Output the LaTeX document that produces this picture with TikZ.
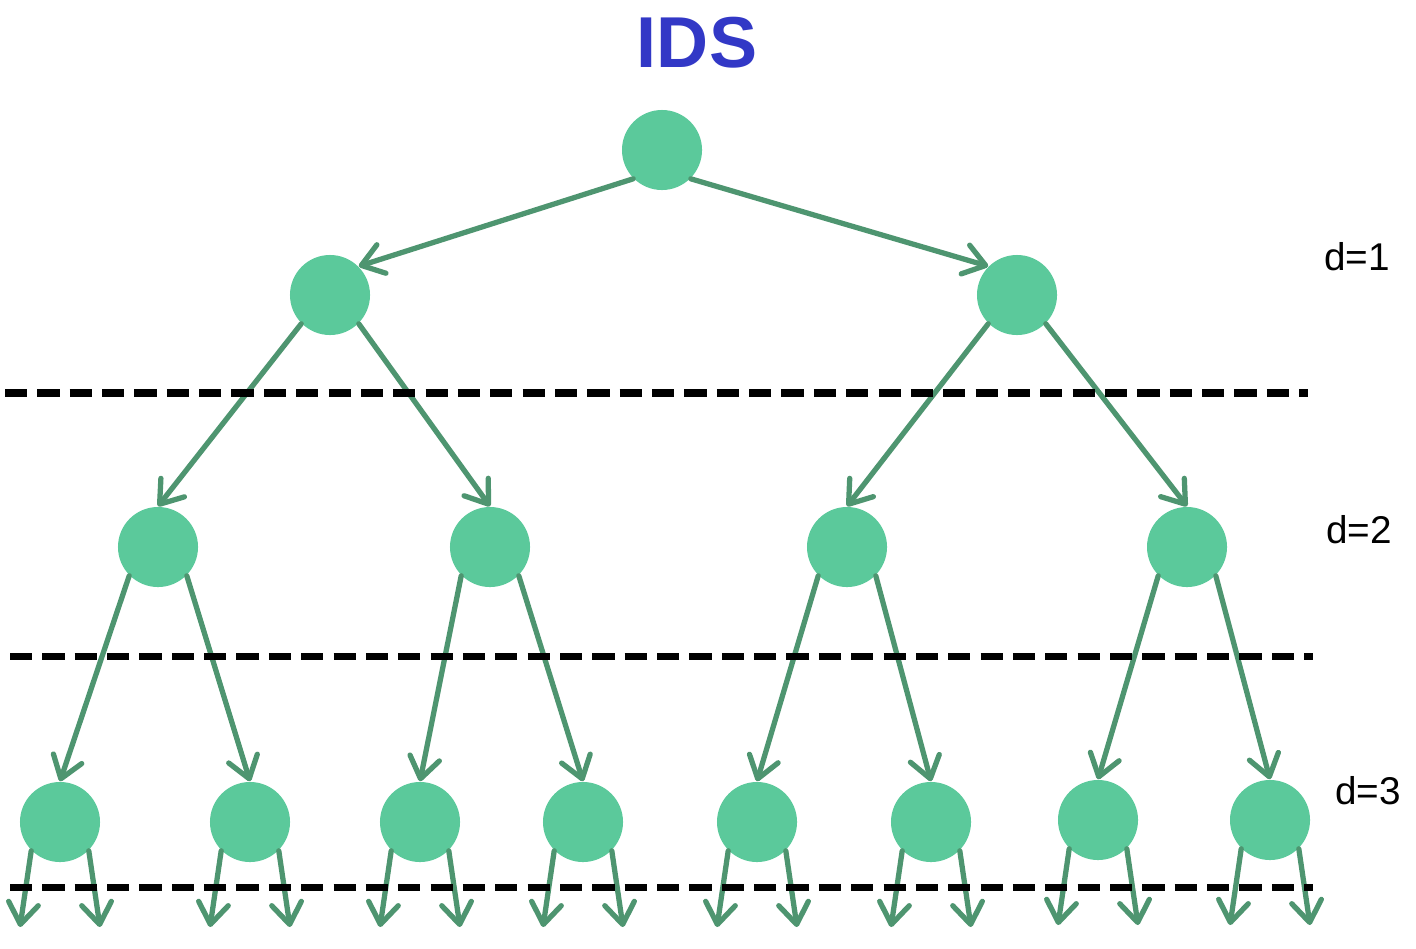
\documentclass[tikz,border=0pt]{standalone}
\usepackage{fontspec}
\setmainfont{Liberation Sans}
\usetikzlibrary{arrows.meta}

\definecolor{nodegreen}{RGB}{91,201,155}
\definecolor{edgegreen}{RGB}{78,149,112}
\definecolor{titleblue}{RGB}{50,56,198}

\begin{document}
\begin{tikzpicture}[x=0.01cm, y=-0.01cm,
		state/.style={circle, fill=nodegreen, inner sep=0pt, minimum size=0.8cm},
		edge/.style={draw=edgegreen, line width=1.5pt, line cap=round,
			-{Straight Barb[length=6pt, width=8.5pt, line width=1.5pt, round]}},
		level/.style={dash pattern=on 6.3pt off 2.9pt, line width=2pt},
		depth/.style={font=\fontsize{11}{13}\selectfont}]
		\useasboundingbox (0,0) rectangle (1416,948);
		\node [font=\fontsize{20.5}{25}\bfseries\selectfont, text=titleblue] (title) at (697,43) {IDS};
		\node [state] (r) at (662,150) {};
		\node [state] (a) at (330,295) {};
		\node [state] (b) at (1017,295) {};
		\node [state] (aa) at (158,547) {};
		\node [state] (ab) at (490,547) {};
		\node [state] (ba) at (847,547) {};
		\node [state] (bb) at (1187,547) {};
		\node [state] (aaa) at (60,822) {};
		\node [state] (aab) at (250,822) {};
		\node [state] (aba) at (420,822) {};
		\node [state] (abb) at (583,822) {};
		\node [state] (baa) at (757,822) {};
		\node [state] (bab) at (931,822) {};
		\node [state] (bba) at (1098,820) {};
		\node [state] (bbb) at (1270,820) {};
		\node [depth] (d1) at (1357,257) {d=1};
		\node [depth] (d2) at (1359,530) {d=2};
		\node [depth] (d3) at (1368,791) {d=3};

		\draw [edge] (r.south west) -- (a.north east);
		\draw [edge] (r.south east) -- (b.north west);
		\draw [edge] (a.south west) -- (aa.north);
		\draw [edge] (a.south east) -- (ab.north);
		\draw [edge] (b.south west) -- (ba.north);
		\draw [edge] (b.south east) -- (bb.north);
		\draw [edge] (aa.south west) -- (aaa.north);
		\draw [edge] (aa.south east) -- (aab.north);
		\draw [edge] (ab.south west) -- (aba.north);
		\draw [edge] (ab.south east) -- (abb.north);
		\draw [edge] (ba.south west) -- (baa.north);
		\draw [edge] (ba.south east) -- (bab.north);
		\draw [edge] (bb.south west) -- (bba.north);
		\draw [edge] (bb.south east) -- (bbb.north);

		\foreach \leaf in {aaa,aab,aba,abb,baa,bab,bba,bbb} {
			\path (\leaf) ++(-40,105) coordinate (\leaf-l) (\leaf) ++(40,105) coordinate (\leaf-r);
			\draw [edge] (\leaf.south west) -- (\leaf-l);
			\draw [edge] (\leaf.south east) -- (\leaf-r);
		}

		\coordinate (c1) at (5,393);
		\coordinate (c2) at (1308,393);
		\coordinate (c3) at (10,656);
		\coordinate (c4) at (1313,656);
		\coordinate (c5) at (10,887);
		\coordinate (c6) at (1313,887);
		\draw [level] (c1) -- (c2);
		\draw [level] (c3) -- (c4);
		\draw [level] (c5) -- (c6);
	\end{tikzpicture}
\end{document}
